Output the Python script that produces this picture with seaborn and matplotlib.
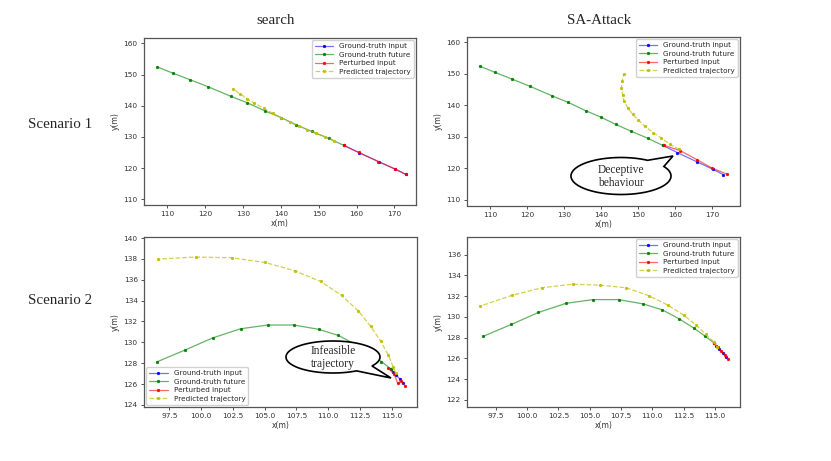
import numpy as np
import matplotlib
matplotlib.use("Agg")
import matplotlib.pyplot as plt
import seaborn as sns
from matplotlib.patches import Polygon
from matplotlib.ticker import FixedLocator, FormatStrFormatter

# ---------------- data ----------------
# Scenario 1
s1_gt_in_x = [173.0, 170.2, 165.8, 160.6, 156.6]
s1_gt_in_y = [118.0, 119.7, 122.1, 125.0, 127.3]
s1_gt_fut_x = [156.6, 152.6, 148.15, 143.95, 140.05, 135.85, 131.0, 126.8, 120.7, 116.05, 111.4, 107.35]
s1_gt_fut_y = [127.3, 129.55, 131.75, 133.95, 136.2, 138.3, 141.0, 143.0, 146.1, 148.3, 150.45, 152.4]
s1_search_pert_x = [173.05, 170.15, 165.75, 160.55, 156.6]
s1_search_pert_y = [118.0, 119.72, 122.12, 125.02, 127.3]
s1_search_pred_x = [153.9, 151.6, 149.3, 147.0, 144.7, 142.4, 140.0, 137.8, 135.4, 133.0, 131.0, 129.2, 127.3]
s1_search_pred_y = [128.8, 130.05, 131.2, 132.35, 133.5, 134.7, 136.2, 137.6, 139.2, 140.8, 142.3, 143.8, 145.4]
s1_sa_pert_x = [174.1, 169.9, 165.8, 161.4, 157.0]
s1_sa_pert_y = [118.1, 120.1, 122.8, 125.6, 127.3]
s1_sa_pred_x = [161.1, 158.6, 156.3, 154.1, 151.9, 150.0, 148.5, 147.2, 146.2, 145.8, 145.5, 145.7, 146.1]
s1_sa_pred_y = [126.0, 127.6, 129.6, 131.3, 133.3, 135.4, 137.2, 139.2, 141.3, 143.4, 145.6, 147.8, 150.0]

# Scenario 2
s2_gt_in_x = [115.92, 115.64, 115.36, 115.1, 114.93]
s2_gt_in_y = [126.12, 126.5, 126.88, 127.2, 127.47]
s2_gt_fut_x = [114.93, 114.2, 113.3, 112.15, 110.8, 109.25, 107.3, 105.25, 103.1, 100.9, 98.75, 96.5]
s2_gt_fut_y = [127.47, 128.15, 128.92, 129.8, 130.67, 131.25, 131.66, 131.66, 131.3, 130.42, 129.27, 128.12]
s2_search_pert_x = [116.05, 115.75, 115.48, 115.2, 114.74]
s2_search_pert_y = [125.85, 126.3, 126.07, 126.95, 127.51]
s2_search_pred_x = [115.31, 115.12, 114.73, 114.13, 113.36, 112.37, 111.06, 109.41, 107.38, 105.02, 102.4, 99.57, 96.59]
s2_search_pred_y = [127.05, 127.68, 128.8, 130.14, 131.52, 133.02, 134.5, 135.84, 136.86, 137.66, 138.11, 138.18, 137.98]
s2_sa_pert_x = [116.07, 115.77, 115.5, 115.22, 114.92]
s2_sa_pert_y = [125.92, 126.36, 126.7, 127.06, 127.47]
s2_sa_pred_x = [115.18, 114.93, 114.27, 113.5, 112.49, 111.24, 109.74, 107.93, 105.86, 103.63, 101.16, 98.76, 96.25]
s2_sa_pred_y = [127.06, 127.54, 128.31, 129.21, 130.17, 131.13, 132.03, 132.8, 133.05, 133.15, 132.8, 132.06, 131.03]

legend_labels = ["Ground-truth input", "Ground-truth future", "Perturbed input", "Predicted trajectory"]
col_titles = ["search", "SA-Attack"]
row_titles = ["Scenario 1", "Scenario 2"]

s1_xticks = [110, 120, 130, 140, 150, 160, 170]
s1_yticks = [110, 120, 130, 140, 150, 160]
s2_xticks = [97.5, 100.0, 102.5, 105.0, 107.5, 110.0, 112.5, 115.0]
s2_yticks_left = [124, 126, 128, 130, 132, 134, 136, 138, 140]
s2_yticks_right = [122, 124, 126, 128, 130, 132, 134, 136]

# ---------------- figure ----------------
sns.set_theme(style="ticks")
plt.rcParams["font.family"] = ["DejaVu Sans"]

W, H = 831, 461
fig = plt.figure(figsize=(W / 100, H / 100), dpi=100)
fig.patch.set_facecolor("white")


def add_ax(left, top, right, bottom):
    return fig.add_axes([left / W, 1 - bottom / H, (right - left) / W, (bottom - top) / H])


def draw_panel(ax, gin, gfut, pert, pred, xlim, ylim, xt, yt, fmt, legend_loc):
    specs = [
        (gin, (0, 0, 1, 0.55), "blue", "-"),
        (gfut, (0, 0.5, 0, 0.6), "green", "-"),
        (pert, (1, 0, 0, 0.6), "red", "-"),
        (pred, (0.75, 0.75, 0, 0.7), (0.75, 0.75, 0), "--"),
    ]
    for lab, ((xs, ys), lc, mc, ls) in zip(legend_labels, specs):
        sns.lineplot(x=xs, y=ys, ax=ax, sort=False, estimator=None,
                     color=lc, linestyle=ls, linewidth=0.9,
                     marker="o", markersize=2.0, markerfacecolor=mc,
                     markeredgecolor=mc, markeredgewidth=0.3, label=lab)
    ax.set_xlim(*xlim)
    ax.set_ylim(*ylim)
    ax.xaxis.set_major_locator(FixedLocator(xt))
    ax.yaxis.set_major_locator(FixedLocator(yt))
    if fmt:
        ax.xaxis.set_major_formatter(FormatStrFormatter(fmt))
    ax.tick_params(labelsize=5.3, length=2.5, width=0.6, pad=2, colors="#333333")
    for sp in ax.spines.values():
        sp.set_visible(True)
        sp.set_color("#555555")
        sp.set_linewidth(0.9)
    ax.set_xlabel("x(m)", fontsize=5.5, labelpad=1.5, color="#333333")
    ax.set_ylabel("y(m)", fontsize=5.5, labelpad=2.5, color="#333333")
    ax.legend(loc=legend_loc, fontsize=5.2, handlelength=2.6, borderpad=0.4,
              labelspacing=0.35, handletextpad=0.8, borderaxespad=0.3,
              framealpha=0.9, edgecolor="0.8", fancybox=True)


ax_tl = add_ax(144, 38, 416, 205)
ax_tr = add_ax(467, 37, 740, 205.5)
ax_bl = add_ax(144, 237, 417, 407)
ax_br = add_ax(467, 237, 740, 407)

draw_panel(ax_tl, (s1_gt_in_x, s1_gt_in_y), (s1_gt_fut_x, s1_gt_fut_y),
           (s1_search_pert_x, s1_search_pert_y), (s1_search_pred_x, s1_search_pred_y),
           (103.8, 175.7), (108.2, 161.7), s1_xticks, s1_yticks, None, "upper right")
draw_panel(ax_tr, (s1_gt_in_x, s1_gt_in_y), (s1_gt_fut_x, s1_gt_fut_y),
           (s1_sa_pert_x, s1_sa_pert_y), (s1_sa_pred_x, s1_sa_pred_y),
           (103.8, 177.5), (108.2, 161.7), s1_xticks, s1_yticks, None, "upper right")
draw_panel(ax_bl, (s2_gt_in_x, s2_gt_in_y), (s2_gt_fut_x, s2_gt_fut_y),
           (s2_search_pert_x, s2_search_pert_y), (s2_search_pred_x, s2_search_pred_y),
           (95.5, 117.0), (123.8, 140.1), s2_xticks, s2_yticks_left, "%.1f", "lower left")
draw_panel(ax_br, (s2_gt_in_x, s2_gt_in_y), (s2_gt_fut_x, s2_gt_fut_y),
           (s2_sa_pert_x, s2_sa_pert_y), (s2_sa_pred_x, s2_sa_pred_y),
           (95.2, 117.0), (121.3, 137.7), s2_xticks, s2_yticks_right, "%.1f", "upper right")

serif = ["Liberation Serif", "DejaVu Serif"]
fig.text(276 / W, 1 - 21 / H, col_titles[0], ha="center", va="center", family=serif, fontsize=10.8)
fig.text(599 / W, 1 - 21 / H, col_titles[1], ha="center", va="center", family=serif, fontsize=10.8)
fig.text(60.5 / W, 1 - 124 / H, row_titles[0], ha="center", va="center", family=serif, fontsize=10.8)
fig.text(60.5 / W, 1 - 301 / H, row_titles[1], ha="center", va="center", family=serif, fontsize=10.8)


def bubble(cx, cy, a, b, t1, t2, tip, text):
    ts = np.radians(np.linspace(t2, t1 + 360, 240))
    pts = [((cx + a * np.cos(t)) / W, 1 - (cy - b * np.sin(t)) / H) for t in ts]
    pts.append((tip[0] / W, 1 - tip[1] / H))
    poly = Polygon(pts, closed=True, transform=fig.transFigure, facecolor="white",
                   edgecolor="black", linewidth=1.2, zorder=5)
    fig.patches.append(poly)
    fig.text(cx / W, 1 - (cy + 0.5) / H, text, ha="center", va="center", family=serif,
             fontsize=8.3, linespacing=1.15, zorder=6)


bubble(621, 176, 50, 18.5, 31, 58, (673, 156), "Deceptive\nbehaviour")
bubble(333, 357, 47, 16, -60, -34, (391, 378), "Infeasible\ntrajectory")

fig.savefig("out.png", dpi=100, facecolor="white")
